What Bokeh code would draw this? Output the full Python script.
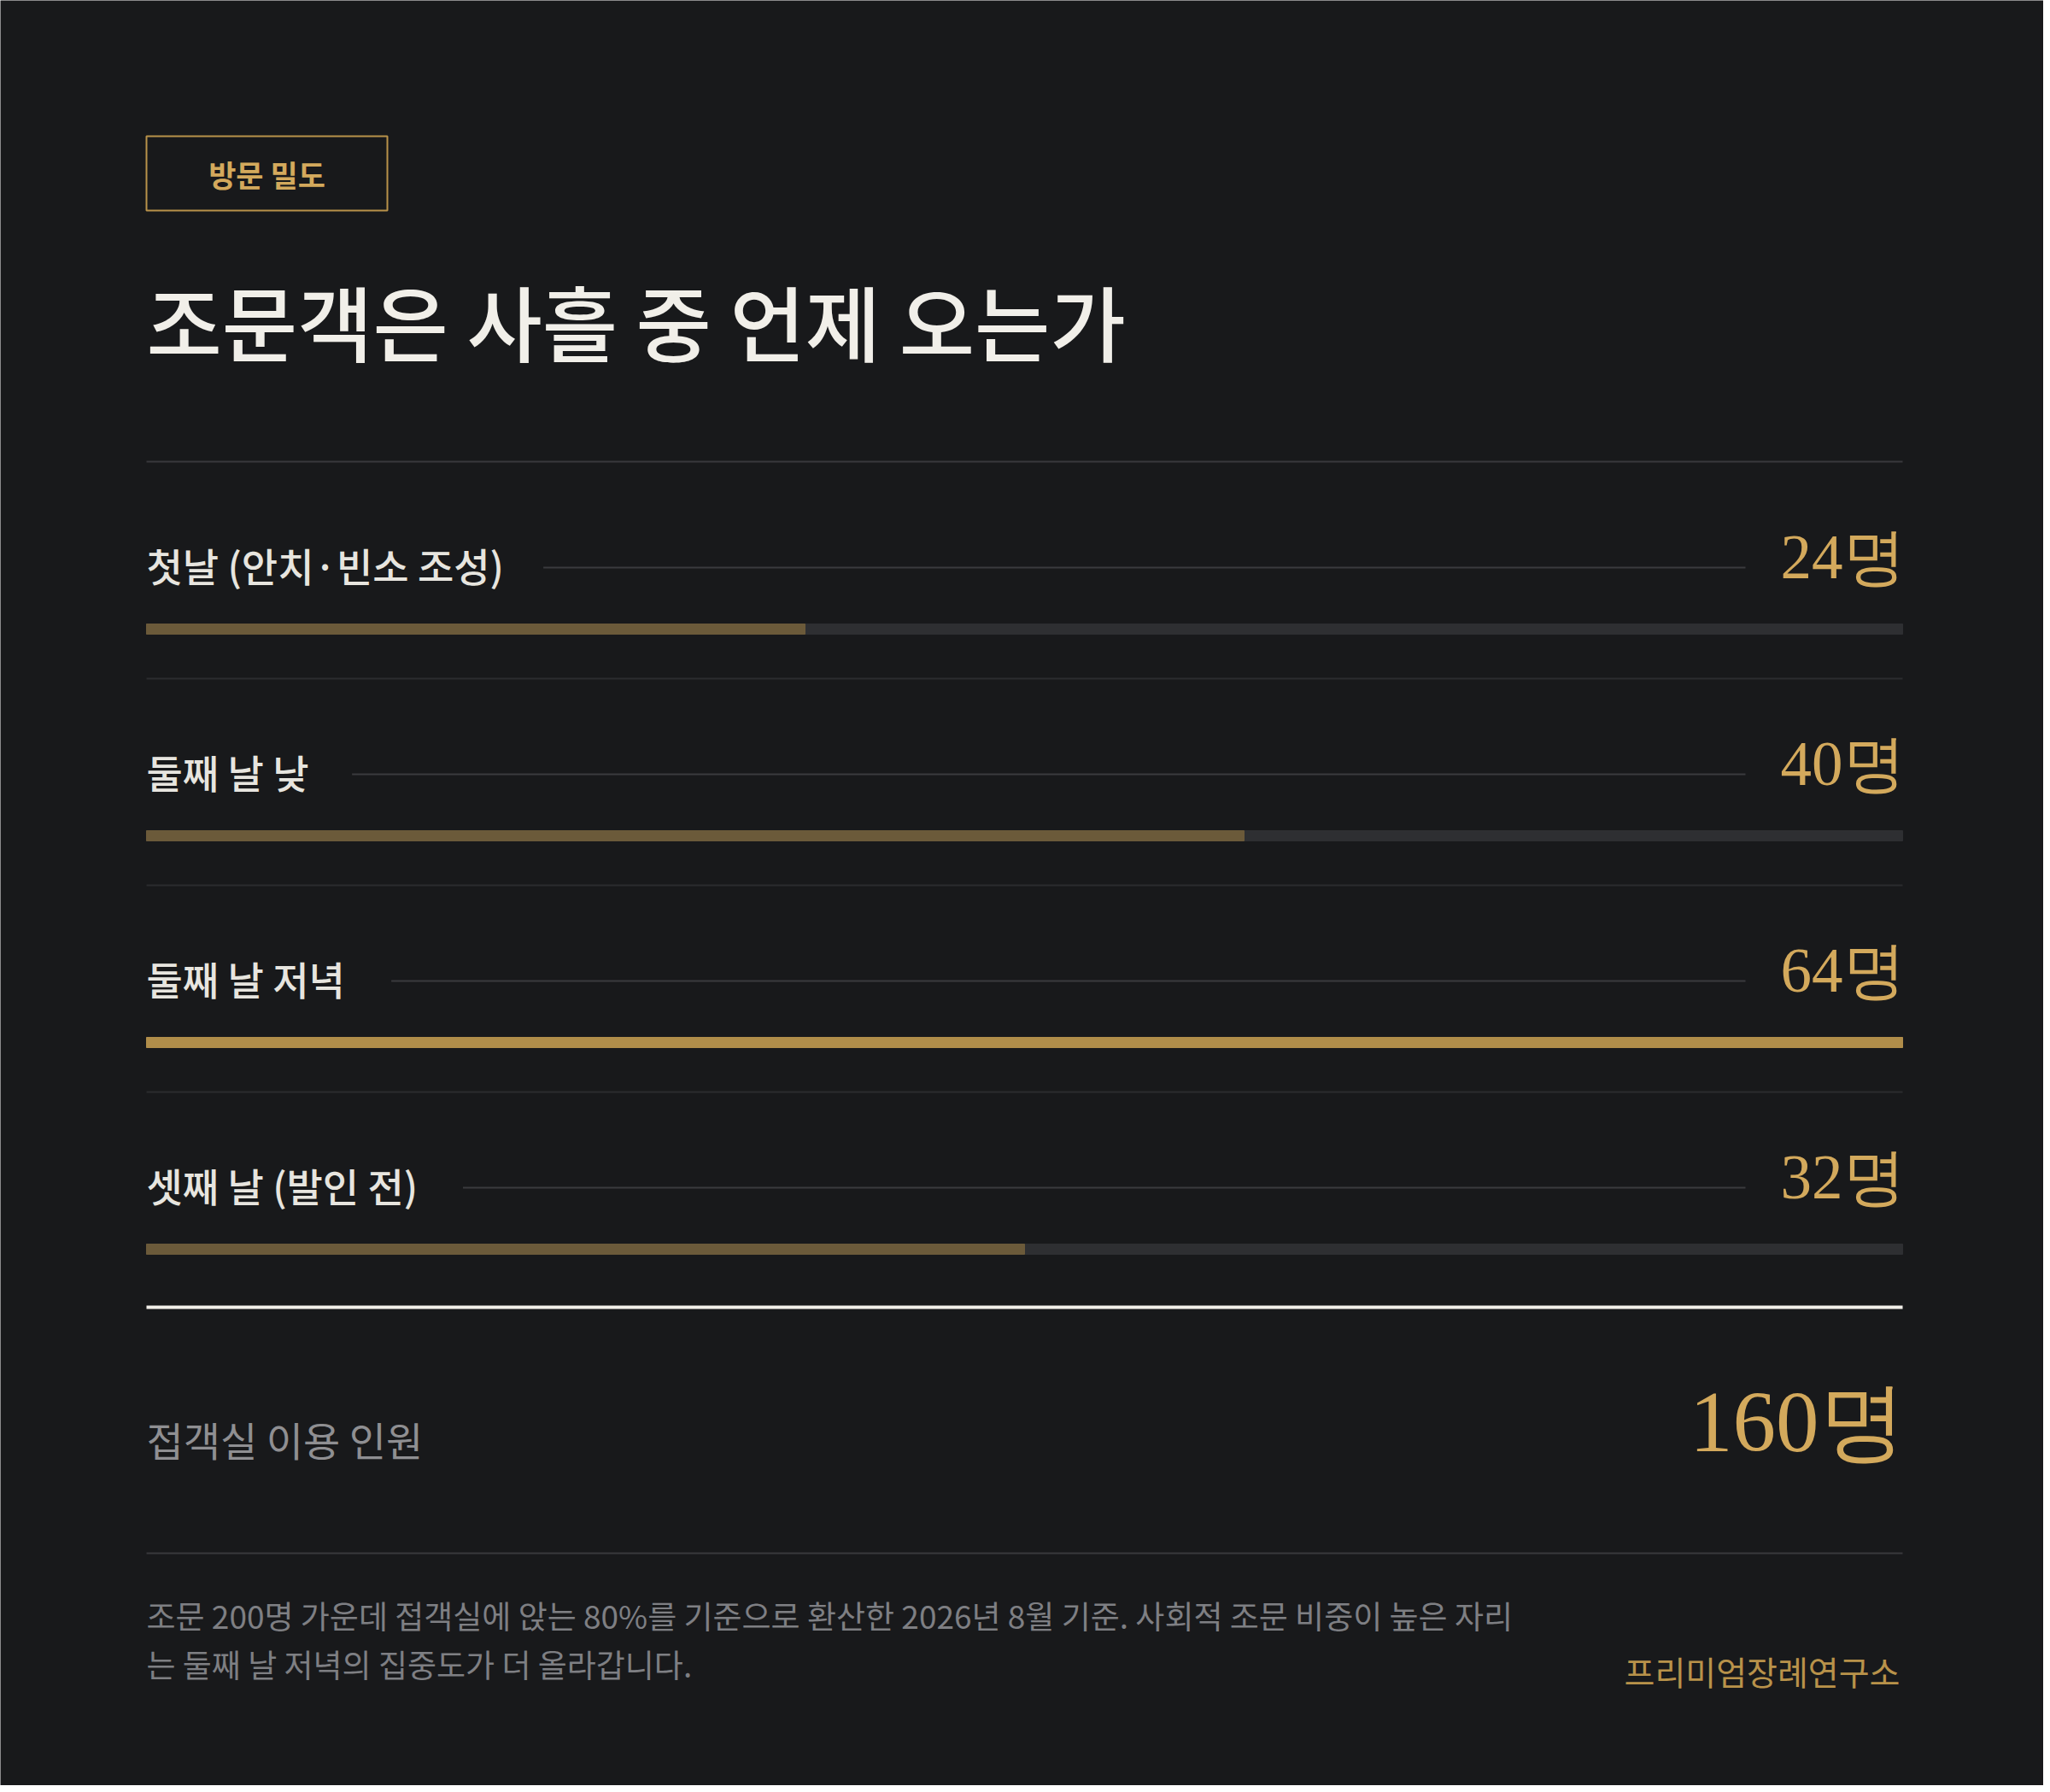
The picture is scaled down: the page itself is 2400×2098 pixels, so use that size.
from bokeh.plotting import figure
from bokeh.models import Range1d
from bokeh.core.properties import value
from bokeh.embed import file_html
from bokeh.resources import INLINE

# ---------------- data ----------------
tag_text = "방문 밀도"
title_text = "조문객은 사흘 중 언제 오는가"
categories = ["첫날 (안치·빈소 조성)", "둘째 날 낮", "둘째 날 저녁", "셋째 날 (발인 전)"]
counts = [24, 40, 64, 32]
unit = "명"
total_label = "접객실 이용 인원"
total_value = 160
note_lines = [
    "조문 200명 가운데 접객실에 앉는 80%를 기준으로 환산한 2026년 8월 기준. 사회적 조문 비중이 높은 자리",
    "는 둘째 날 저녁의 집중도가 더 올라갑니다.",
]
brand = "프리미엄장례연구소"

# ---------------- layout / style ----------------
BG = "#18191b"
GOLD = "#d3a95c"
GOLD_LINE = "#b8924a"
BAR_HI = "#b08d4a"
BAR_LO = "#6b5a3a"
TRACK = "#2e2f32"
LEFT_PX, RIGHT_PX = 171, 2227
W, H = 2392, 2090
vmax = max(counts)
ppu = (RIGHT_PX - LEFT_PX) / vmax


def px(x):
    """page pixel x -> value units"""
    return (x - LEFT_PX) / ppu


def est_width(s, fs):
    w = 0.0
    for ch in s:
        if 0xAC00 <= ord(ch) <= 0xD7A3:
            w += 1.0
        elif ch == " ":
            w += 0.224
        elif ch in "()":
            w += 0.3
        elif ch == "·":
            w += 0.27
        elif ch.isdigit():
            w += 0.555
        else:
            w += 0.5
    return w * fs


p = figure(width=W, height=H, output_backend="svg", toolbar_location=None,
           x_range=Range1d(px(0), px(W)), y_range=Range1d(H, 0),
           min_border=0, min_border_left=0, min_border_right=0,
           min_border_top=0, min_border_bottom=0)
p.axis.visible = False
p.grid.visible = False
p.outline_line_color = None
p.background_fill_color = BG
p.border_fill_color = BG

KR = value("Noto Sans CJK KR")
KR_MED = value("'Noto Sans CJK KR Medium', 'Noto Sans CJK KR'")
SERIF = value("Liberation Serif")

# tag box
p.quad(left=[px(171)], right=[px(453)], top=[159], bottom=[246],
       fill_alpha=0, line_color=GOLD_LINE, line_width=2)
p.text(x=[px(312)], y=[203], text=[tag_text], text_font=KR,
       text_font_size=value("35px"), text_font_style="bold", text_color=GOLD,
       text_align="center", text_baseline="middle")

# title
p.text(x=[0], y=[374], text=[title_text], text_font=KR_MED,
       text_font_size=value("96px"), text_color="#f1efe9",
       text_align="left", text_baseline="middle")

# top divider
p.segment(x0=[0], x1=[vmax], y0=[540], y1=[540], line_color="#38393c", line_width=2)

ROW0, PITCH = 660, 242
label_fs = 46
row_y = [ROW0 + i * PITCH for i in range(len(categories))]
bar_y = [y + 76 for y in row_y]
val_y = [y - 8 for y in row_y]
lead_start = [px(LEFT_PX + est_width(c, label_fs) + 36) for c in categories]

p.text(x=[0] * len(categories), y=row_y, text=categories, text_font=KR_MED,
       text_font_size=value(f"{label_fs}px"), text_color="#e7e5df",
       text_align="left", text_baseline="middle")
p.segment(x0=lead_start, x1=[px(2043)] * len(categories), y0=[y + 4 for y in row_y],
          y1=[y + 4 for y in row_y], line_color="#3a3b3e", line_width=2)
p.text(x=[px(2230)] * len(categories), y=val_y, text=[f"{c}{unit}" for c in counts],
       text_font=SERIF, text_font_size=value("73px"), text_color=GOLD,
       text_align="right", text_baseline="alphabetic")

# bars
p.hbar(y=bar_y, left=0, right=[vmax] * len(counts), height=12, color=TRACK)
p.hbar(y=bar_y, left=0, right=counts, height=12,
       color=[BAR_HI if c == vmax else BAR_LO for c in counts])

# row separators
sep_y = [y + 134 for y in row_y[:-1]]
p.segment(x0=[0] * len(sep_y), x1=[vmax] * len(sep_y), y0=sep_y, y1=sep_y,
          line_color="#2b2c2f", line_width=2)

# total
p.segment(x0=[0], x1=[vmax], y0=[1530], y1=[1530], line_color="#f1efe9", line_width=4)
p.text(x=[0], y=[1684], text=[total_label], text_font=KR,
       text_font_size=value("47px"), text_color="#8f8f92",
       text_align="left", text_baseline="middle")
p.text(x=[px(2230)], y=[1664], text=[f"{total_value}{unit}"], text_font=SERIF,
       text_font_size=value("101px"), text_color=GOLD,
       text_align="right", text_baseline="alphabetic")

p.segment(x0=[0], x1=[vmax], y0=[1818], y1=[1818], line_color="#38393c", line_width=2)

# footnote
p.text(x=[0, 0], y=[1890, 1947], text=note_lines, text_font=KR,
       text_font_size=value("37px"), text_color="#7e7f83",
       text_align="left", text_baseline="middle")
p.text(x=[px(2224)], y=[1955], text=[brand], text_font=KR,
       text_font_size=value("39px"), text_color=GOLD_LINE,
       text_align="right", text_baseline="middle")

html = file_html(p, INLINE)
html = html.replace("<body>", f'<body style="margin:0;background:{BG};">', 1)
open("out.html", "w").write(html)
